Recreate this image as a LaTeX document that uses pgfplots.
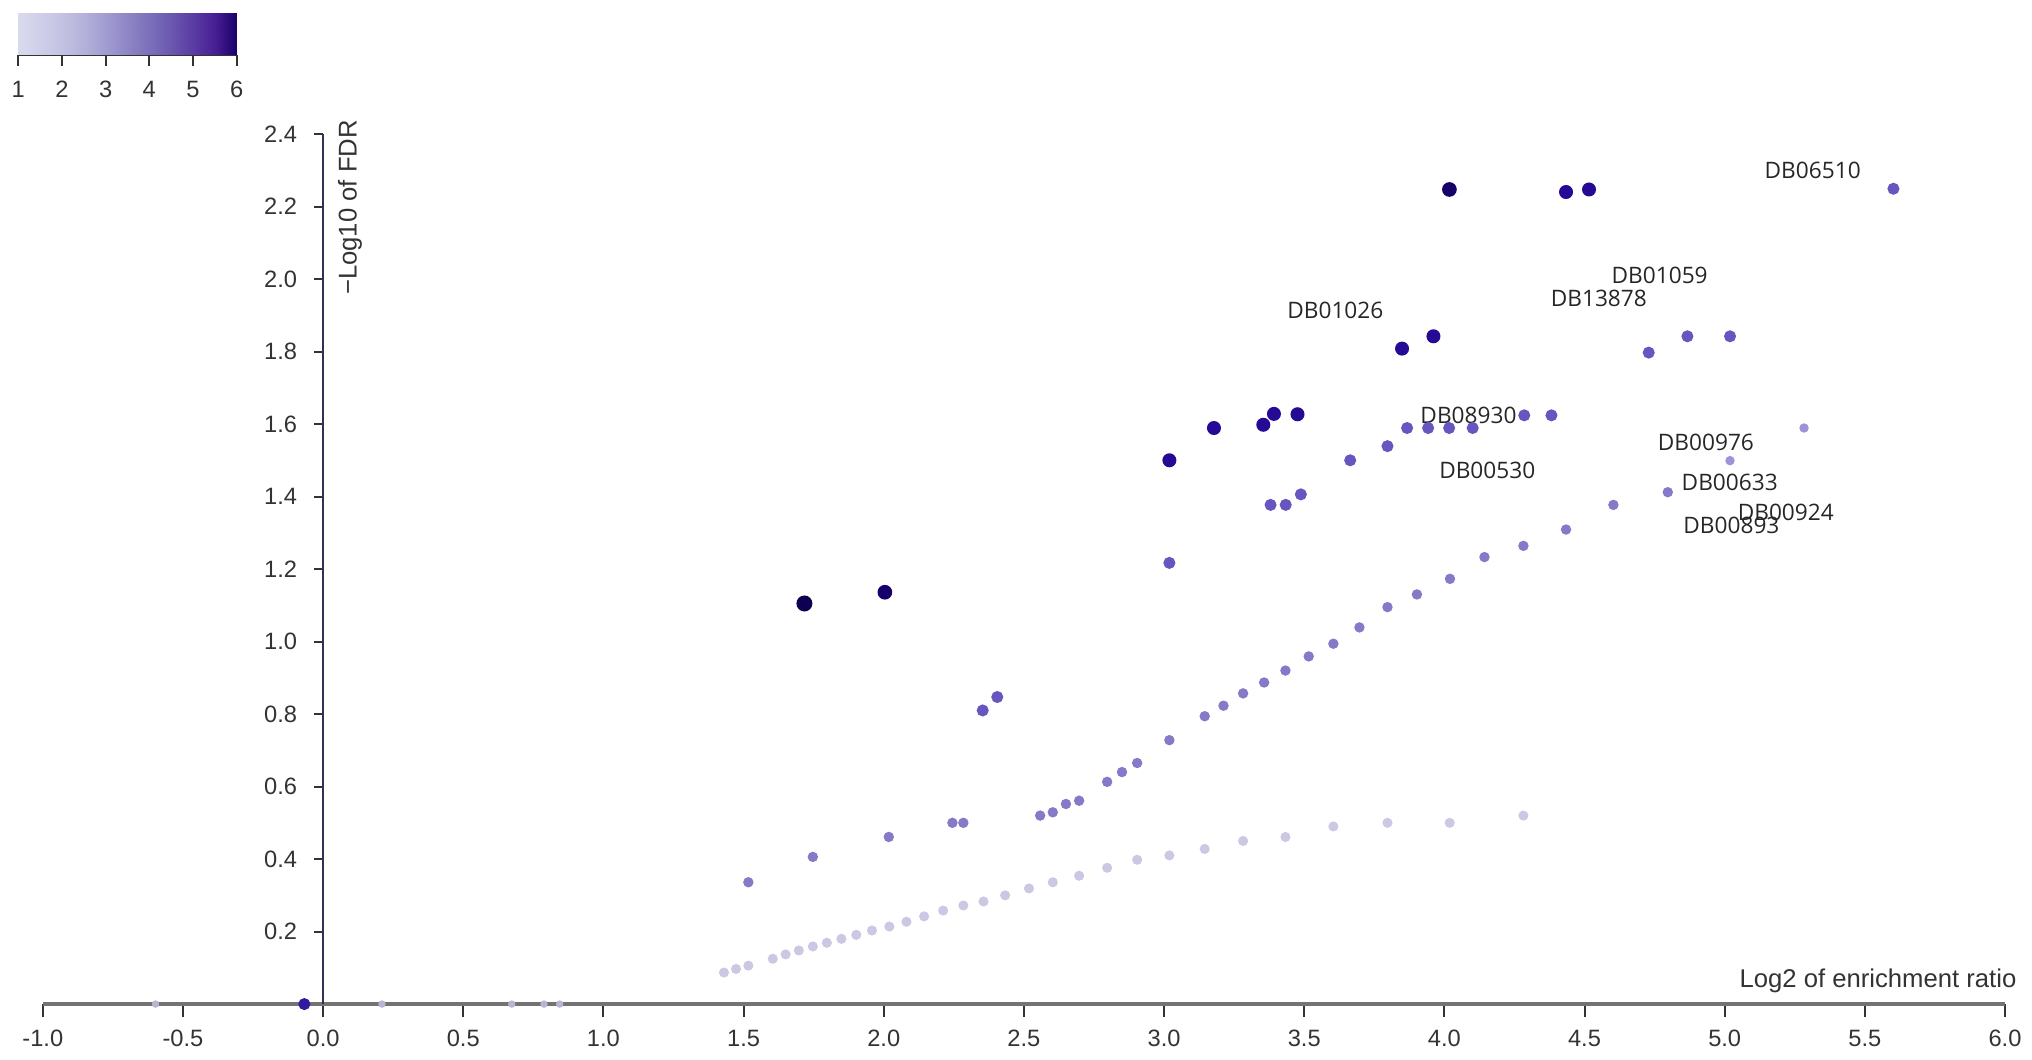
\documentclass[border=0pt]{standalone}
\usepackage{pgfplots}
\pgfplotsset{compat=1.18}
\usepackage{fontspec}
\setmainfont{Liberation Sans}
\newfontfamily\lblfont{Open Sans}
\definecolor{tickgray}{HTML}{333333}
\definecolor{cA}{RGB}{14,0,80}
\definecolor{cB}{RGB}{22,0,105}
\definecolor{cC}{RGB}{38,10,150}
\definecolor{cD}{RGB}{102,86,192}
\definecolor{cE}{RGB}{132,122,200}
\definecolor{cF}{RGB}{155,148,215}
\definecolor{cG}{RGB}{202,200,226}
\definecolor{cH}{RGB}{185,182,212}
\definecolor{yaxis}{RGB}{50,48,85}
\pgfplotsset{
  colormap={purp}{rgb255=(218,218,238) rgb255=(208,207,233) rgb255=(196,194,226)
    rgb255=(180,177,218) rgb255=(160,156,208) rgb255=(142,134,198) rgb255=(124,112,186)
    rgb255=(106,88,175) rgb255=(90,60,163) rgb255=(72,30,148) rgb255=(24,0,106)},
}
\newcommand{\tfont}{\fontsize{7.1}{8.5}\selectfont}
\newcommand{\lfont}{\fontsize{7.7}{9}\selectfont}
\newcommand{\dbfont}{\lblfont\fontsize{6.8}{8}\selectfont}
\begin{document}
\begin{tikzpicture}
\useasboundingbox (-12.84pt,-16.5pt) rectangle (596.7pt,301.2pt);
\begin{axis}[
  at={(0pt,0pt)}, anchor=south west,
  scale only axis, width=588.6pt, height=261pt,
  xmin=-1, xmax=6, ymin=0, ymax=2.4,
  clip=false,
  axis x line=bottom, axis y line=middle,
  hide obscured x ticks=false, hide obscured y ticks=false,
  every inner y axis line/.append style={-},
  every outer x axis line/.append style={-},
  x axis line style={-, line width=1.2pt, draw=black!55},
  y axis line style={-, line width=0.7pt, draw=yaxis},
  xtick={-1,-0.5,0,0.5,1,1.5,2,2.5,3,3.5,4,4.5,5,5.5,6},
  ytick={0.2,0.4,0.6,0.8,1.0,1.2,1.4,1.6,1.8,2.0,2.2,2.4},
  tick align=outside,
  xtick style={/pgfplots/major tick length=3.9pt, line width=0.6pt, draw=tickgray},
  ytick style={/pgfplots/major tick length=2.7pt, line width=0.6pt, draw=tickgray},
  /pgf/number format/assume math mode=true,
  xticklabel style={font=\tfont, text=tickgray, /pgf/number format/.cd, fixed, fixed zerofill, precision=1},
  yticklabel style={font=\tfont, text=tickgray, /pgf/number format/.cd, fixed, fixed zerofill, precision=1},
]
% bottom chain (lightest)
\addplot[only marks, mark=*, mark size=1.3pt, mark options={draw=cG, fill=cG}] coordinates {
(1.430,0.087)(1.473,0.097)(1.517,0.106)(1.604,0.125)(1.650,0.137)(1.697,0.148)(1.747,0.159)
(1.797,0.169)(1.849,0.180)(1.902,0.191)(1.958,0.203)(2.020,0.214)(2.081,0.227)(2.144,0.242)
(2.212,0.258)(2.284,0.272)(2.356,0.283)(2.433,0.300)(2.518,0.319)(2.603,0.336)(2.697,0.354)
(2.797,0.376)(2.904,0.398)(3.019,0.410)(3.145,0.428)(3.282,0.450)(3.433,0.461)(3.604,0.490)
(3.797,0.500)(4.019,0.500)(4.282,0.520)};
% tiny points on the axis
\addplot[only marks, mark=*, mark size=0.9pt, mark options={draw=cH, fill=cH}] coordinates {
(-0.598,0)(0.210,0)(0.673,0)(0.788,0)(0.844,0)};
% middle chain
\addplot[only marks, mark=*, mark size=1.35pt, mark options={draw=cE, fill=cE}] coordinates {
(1.517,0.336)(1.747,0.406)(2.018,0.461)(2.245,0.500)(2.284,0.500)(2.558,0.520)(2.603,0.529)
(2.650,0.552)(2.697,0.561)(2.797,0.613)(2.850,0.640)(2.904,0.665)(3.019,0.728)(3.145,0.794)
(3.212,0.823)(3.282,0.857)(3.357,0.887)(3.433,0.920)(3.516,0.959)(3.604,0.994)(3.697,1.039)
(3.797,1.095)(3.902,1.130)(4.020,1.173)(4.143,1.233)(4.282,1.264)(4.434,1.309)(4.603,1.377)
(4.797,1.412)};
% lighter upper right
\addplot[only marks, mark=*, mark size=1.2pt, mark options={draw=cF, fill=cF}] coordinates {
(5.019,1.499)(5.283,1.589)};
% medium
\addplot[only marks, mark=*, mark size=1.6pt, mark options={draw=cD, fill=cD}] coordinates {
(3.664,1.500)(3.797,1.539)(3.867,1.589)(3.942,1.589)(4.017,1.589)(4.101,1.589)(4.285,1.624)
(4.382,1.624)(4.729,1.797)(4.867,1.842)(5.019,1.842)(5.602,2.249)(3.380,1.377)(3.434,1.377)
(3.488,1.406)(3.019,1.217)(2.353,0.810)(2.405,0.847)};
\addplot[only marks, mark=*, mark size=1.6pt, mark options={draw=cC!80!cD, fill=cC!80!cD}] coordinates {
(-0.067,0.0)};
% dark
\addplot[only marks, mark=*, mark size=1.9pt, mark options={draw=cC, fill=cC}] coordinates {
(3.019,1.500)(3.178,1.589)(3.354,1.598)(3.392,1.628)(3.476,1.627)(3.849,1.808)(3.961,1.842)
(4.434,2.240)(4.516,2.247)};
\addplot[only marks, mark=*, mark size=2.0pt, mark options={draw=cB, fill=cB}] coordinates {
(2.004,1.136)(4.018,2.247)};
\addplot[only marks, mark=*, mark size=2.2pt, mark options={draw=cA, fill=cA}] coordinates {
(1.717,1.105)};
% labels
\begin{scope}[every node/.style={font=\dbfont, text=black!85, inner sep=0pt}]
\node at (axis cs:5.314,2.300) {DB06510};
\node at (axis cs:4.768,2.011) {DB01059};
\node at (axis cs:4.551,1.946) {DB13878};
\node at (axis cs:3.611,1.914) {DB01026};
\node at (axis cs:4.086,1.624) {DB08930};
\node at (axis cs:4.153,1.471) {DB00530};
\node at (axis cs:4.933,1.550) {DB00976};
\node at (axis cs:5.018,1.440) {DB00633};
\node at (axis cs:5.024,1.321) {DB00893};
\node at (axis cs:5.218,1.357) {DB00924};
\end{scope}
\node[font=\lfont, text=tickgray, anchor=base east, inner sep=0pt] at (axis cs:6.043,0.045) {Log2 of enrichment ratio};
\node[font=\lfont, text=tickgray, anchor=east, rotate=90, inner sep=0pt] at (axis cs:0.096,2.440) {−Log10 of FDR};
\end{axis}
% colour bar
\begin{axis}[
  at={(-7.35pt,284.7pt)}, anchor=south west,
  scale only axis, width=65.5pt, height=12.7pt,
  xmin=1, xmax=6, ymin=0, ymax=1, enlargelimits=false,
  axis x line*=bottom, axis y line=none,
  x axis line style={-, line width=0.7pt, draw=tickgray},
  xtick={1,2,3,4,5,6}, ytick=\empty,
  tick align=outside,
  xtick style={/pgfplots/major tick length=3.3pt, line width=0.6pt, draw=tickgray},
  xticklabel style={font=\tfont, text=tickgray},
  /pgf/number format/assume math mode=true,
  colormap name=purp, point meta min=1, point meta max=6,
]
\addplot[surf, shader=interp, point meta=x, mesh/cols=11] coordinates {
(1,0)(1.5,0)(2,0)(2.5,0)(3,0)(3.5,0)(4,0)(4.5,0)(5,0)(5.5,0)(6,0)
(1,1)(1.5,1)(2,1)(2.5,1)(3,1)(3.5,1)(4,1)(4.5,1)(5,1)(5.5,1)(6,1)};
\end{axis}
\end{tikzpicture}
\end{document}
